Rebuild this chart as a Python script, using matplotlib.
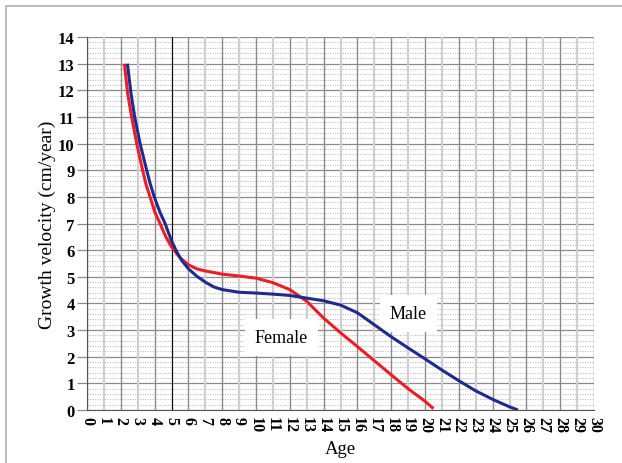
import matplotlib.pyplot as plt
from matplotlib.patches import Rectangle

# growth velocity curves (age in years, velocity in cm/year)
female_age = [2.21, 2.4, 2.64, 2.94, 3.29, 3.5, 3.73, 4.0, 4.32, 4.65, 5, 5.5, 6, 6.5,
              7, 8, 9, 10, 11, 12, 13, 14, 15, 16, 17, 18, 19, 20, 20.5]
female_vel = [13, 11.9, 11, 10, 9, 8.45, 8, 7.45, 7, 6.52, 6.12, 5.72, 5.45, 5.3, 5.22,
              5.1, 5.03, 4.95, 4.78, 4.52, 4.08, 3.45, 2.9, 2.38, 1.85, 1.32, 0.8,
              0.33, 0.05]

male_age = [2.39, 2.6, 2.82, 3.14, 3.53, 3.75, 3.98, 4.3, 4.62, 5, 5.3, 5.6, 6, 6.5,
            7, 7.5, 8, 9, 10, 11, 12, 13, 14, 15, 16, 17, 18, 19, 20, 21, 22, 23, 24,
            25, 25.5]
male_vel = [13, 11.9, 11, 10, 9, 8.47, 8, 7.45, 7, 6.35, 5.95, 5.62, 5.3, 5.02, 4.8,
            4.62, 4.52, 4.42, 4.39, 4.35, 4.3, 4.2, 4.1, 3.94, 3.65, 3.2, 2.75, 2.33,
            1.92, 1.5, 1.1, 0.72, 0.4, 0.12, 0.0]

x_ticks = list(range(0, 31))
y_ticks = list(range(0, 15))

serif = ['Liberation Serif', 'DejaVu Serif']

fig = plt.figure(figsize=(6.22, 4.64), dpi=100)
ax = fig.add_axes([0.1399, 0.1142, 0.8151, 0.8038])
ax.set_xlim(0, 30)
ax.set_ylim(0, 14)

# graph-paper grid
for y in y_ticks:
    ax.axhline(y, color='#8a8a8a', lw=0.9, zorder=1)
for i in range(70):
    y = i * 0.2
    if abs(y - round(y)) > 0.01:
        ax.axhline(y, color='#b8b8b8', lw=0.6, ls=(0, (1.5, 1.5)), zorder=1)
for x in x_ticks:
    if x == 5:
        ax.axvline(x, color='#111111', lw=0.9, zorder=1)
    elif x % 2 == 0:
        ax.axvline(x, color='#8a8a8a', lw=1.0, zorder=1)
    else:
        ax.axvline(x, color='#cfcfcf', lw=1.6, zorder=1)

ax.plot(female_age, female_vel, color='#ee1c25', lw=2.2, zorder=3,
        solid_joinstyle='round', solid_capstyle='butt')
ax.plot(male_age, male_vel, color='#1f2a8f', lw=2.2, zorder=3,
        solid_joinstyle='round', solid_capstyle='butt')

ax.text(11.5, 2.72, 'Female', family=serif, fontsize=13, ha='center', va='center',
        zorder=2, bbox=dict(boxstyle='square,pad=0.55', fc='white', ec='none'))
ax.text(19.0, 3.62, 'Male', family=serif, fontsize=13, ha='center', va='center',
        zorder=2, bbox=dict(boxstyle='square,pad=0.55', fc='white', ec='none'))

ax.set_xticks(x_ticks)
ax.set_yticks(y_ticks)
ax.set_xticklabels([str(v) for v in x_ticks], rotation=-90, family=serif,
                   fontweight='bold', fontsize=11.5)
ax.set_yticklabels([str(v) for v in y_ticks], family=serif,
                   fontweight='bold', fontsize=12)
ax.tick_params(axis='x', length=0, pad=4)
ax.tick_params(axis='y', length=7, width=0.9, color='#8a8a8a', pad=2)

for side in ['top', 'right']:
    ax.spines[side].set_visible(False)
ax.spines['left'].set_color('#555555')
ax.spines['bottom'].set_color('#555555')

ax.set_xlabel('Age', family=serif, fontsize=13.5, labelpad=6)
ax.set_ylabel('Growth velocity (cm/year)', family=serif, fontsize=14, labelpad=1)

# outer frame around the figure
fig.add_artist(Rectangle((6 / 622, -0.1), 1.2, (464 - 7) / 464 + 0.1, fill=False,
                         edgecolor='#b5b5b5', lw=1.3, transform=fig.transFigure))

fig.savefig('out.png', dpi=100)
